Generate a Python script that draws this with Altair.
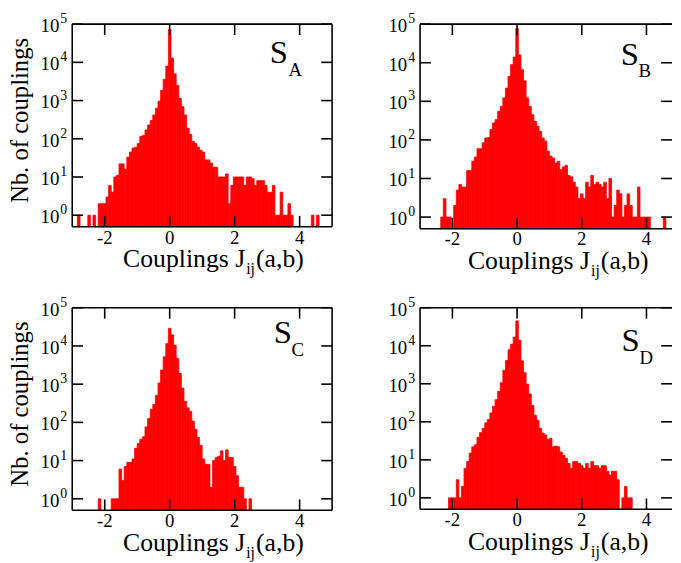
import altair as alt
import pandas as pd

BIN = 0.08
FONT = "Liberation Serif"
RED = "#ff0000"

# histogram counts, bins of width 0.08 centred on k*0.08, starting at k = *_START
A_START = -35
A_COUNTS = [1, 0, 0, 0, 1, 0, 1, 0, 2, 2, 2, 3, 6, 4, 10, 11, 22, 22, 16, 33,
            45, 57, 60, 75, 115, 123, 170, 230, 300, 420, 630, 970, 1860, 3600, 8000,
            72000, 13000, 5000, 2500, 1150, 690, 420, 190, 130, 85, 75, 60, 50, 45, 28,
            28, 23, 18, 18, 10, 10, 10, 12, 2, 6, 10, 10, 10, 10, 6, 10, 10, 9, 6, 8,
            8, 8, 6, 4, 4, 6, 1, 1, 4, 1, 1, 2, 1, 0, 0, 0, 0, 0, 0, 0, 1, 0, 1]

B_START = -29
B_COUNTS = [1, 3, 1, 1, 0, 2, 5, 7, 6, 6, 16, 16, 28, 36, 59, 59, 84, 112, 115, 185,
            275, 335, 550, 740, 1230, 2200, 4400, 8900, 14000,
            76000, 16000, 6600, 3400, 1230, 740, 450, 300, 225, 167, 112, 93, 51, 38, 34,
            25, 28, 17, 20, 22, 12, 11, 8, 6, 3, 4, 3, 8, 6, 12, 7, 8, 7, 6, 8, 3, 10,
            1, 2, 5, 4, 1, 2, 4, 2, 1, 1, 6, 1, 1, 1, 1, 0, 0, 0, 0, 0, 1]

C_START = -27
C_COUNTS = [1, 0, 0, 0, 0, 1, 1, 1, 6, 3, 7, 9, 9, 11, 21, 28, 36, 42, 76, 126, 218,
            295, 510, 1070, 2350, 5200, 11500,
            29000, 19500, 10400, 4700, 1900, 790, 355, 240, 195, 108, 66, 40, 25, 11, 8,
            8, 2, 10, 12, 13, 18, 10, 19, 12, 12, 7, 4, 2, 2, 1, 0, 1]

D_START = -26
D_COUNTS = [1, 1, 1, 3, 1, 2, 6, 9, 15, 22, 25, 39, 52, 67, 94, 115, 171, 255, 380,
            630, 1070, 2250, 4100, 7900, 11000, 17000,
            45000, 14000, 4000, 1950, 980, 540, 270, 148, 110, 67, 50, 45, 34, 37, 22, 23,
            22, 16, 13, 11, 8, 6, 9, 9, 8, 7, 6, 8, 6, 9, 7, 7, 6, 7, 7, 5, 4, 5, 5, 3,
            0, 1, 2, 1, 1]

TICK_X = [-2, 0, 2, 4]
TICK_X_LABELS = ["-2", "0", "2", "4"]
TICK_Y = [1, 10, 100, 1000, 10000, 100000]
TICK_Y_EXP = ["0", "1", "2", "3", "4", "5"]

TL = 11      # inward tick length
FW = 1.6     # frame width


def panel(letter, start, counts, xmax, W, H, ytitle, s_pos, title_x, right_frame):
    rows = []
    for i, c in enumerate(counts):
        if c > 0:
            k = start + i
            rows.append({"x0": (k - 0.5) * BIN, "x1": (k + 0.5) * BIN, "n": c})
    bars_df = pd.DataFrame(rows)
    xs = alt.Scale(domain=[-3, xmax], nice=False, zero=False)
    ys = alt.Scale(type="log", domain=[0.5, 100000], nice=False)
    X = lambda f: alt.X(f, scale=xs, axis=None)
    Y = lambda f: alt.Y(f, scale=ys, axis=None)

    xt = pd.DataFrame({"v": TICK_X, "lab": TICK_X_LABELS})
    yt = pd.DataFrame({"v": TICK_Y, "e": TICK_Y_EXP})
    one = pd.DataFrame({"a": [0]})

    layers = []
    layers.append(alt.Chart(bars_df).mark_rect(color=RED, stroke=RED, strokeWidth=0.8).encode(
        x=X("x0:Q"), x2="x1:Q", y=Y("n:Q"), y2=alt.value(H)))
    # frame
    layers.append(alt.Chart(one).mark_rule(color="black", strokeWidth=FW).encode(
        x=alt.value(0), x2=alt.value(W), y=alt.value(0)))
    layers.append(alt.Chart(one).mark_rule(color="black", strokeWidth=FW).encode(
        x=alt.value(0), x2=alt.value(W), y=alt.value(H)))
    layers.append(alt.Chart(one).mark_rule(color="black", strokeWidth=FW).encode(
        x=alt.value(0), y=alt.value(0), y2=alt.value(H)))
    if right_frame:
        layers.append(alt.Chart(one).mark_rule(color="black", strokeWidth=FW).encode(
            x=alt.value(W), y=alt.value(0), y2=alt.value(H)))
    # inward ticks
    layers.append(alt.Chart(xt).mark_rule(color="black", strokeWidth=FW).encode(
        x=X("v:Q"), y=alt.value(H), y2=alt.value(H - TL)))
    layers.append(alt.Chart(xt).mark_rule(color="black", strokeWidth=FW).encode(
        x=X("v:Q"), y=alt.value(0), y2=alt.value(TL)))
    layers.append(alt.Chart(yt).mark_rule(color="black", strokeWidth=FW).encode(
        y=Y("v:Q"), x=alt.value(0), x2=alt.value(TL)))
    layers.append(alt.Chart(yt).mark_rule(color="black", strokeWidth=FW).encode(
        y=Y("v:Q"), x=alt.value(W), x2=alt.value(W - TL)))
    # y tick labels 10^n
    layers.append(alt.Chart(yt).mark_text(font=FONT, fontSize=19, align="right",
                                          baseline="middle", dy=2).encode(
        y=Y("v:Q"), x=alt.value(-13), text=alt.value("10")))
    layers.append(alt.Chart(yt).mark_text(font=FONT, fontSize=14, align="left",
                                          baseline="middle", dy=-5).encode(
        y=Y("v:Q"), x=alt.value(-12), text="e:N"))
    # x tick labels
    layers.append(alt.Chart(xt).mark_text(font=FONT, fontSize=19, align="center",
                                          baseline="alphabetic").encode(
        x=X("v:Q"), y=alt.value(H + 17), text="lab:N"))
    # S label
    sx, sy, bx, by = s_pos
    layers.append(alt.Chart(one).mark_text(font=FONT, fontSize=33, align="left",
                                           baseline="alphabetic").encode(
        x=alt.value(sx), y=alt.value(sy), text=alt.value("S")))
    layers.append(alt.Chart(one).mark_text(font=FONT, fontSize=19, align="left",
                                           baseline="alphabetic").encode(
        x=alt.value(bx), y=alt.value(by), text=alt.value(letter)))
    # x axis title "Couplings J_ij(a,b)"
    layers.append(alt.Chart(one).mark_text(font=FONT, fontSize=26, align="right",
                                           baseline="alphabetic").encode(
        x=alt.value(title_x), y=alt.value(H + 41), text=alt.value("Couplings J")))
    layers.append(alt.Chart(one).mark_text(font=FONT, fontSize=16, align="left",
                                           baseline="alphabetic").encode(
        x=alt.value(title_x + 1), y=alt.value(H + 48), text=alt.value("ij")))
    layers.append(alt.Chart(one).mark_text(font=FONT, fontSize=26, align="left",
                                           baseline="alphabetic").encode(
        x=alt.value(title_x + 11), y=alt.value(H + 41), text=alt.value("(a,b)")))
    if ytitle:
        layers.append(alt.Chart(one).mark_text(font=FONT, fontSize=25, align="center",
                                               baseline="alphabetic", angle=270).encode(
            x=alt.value(-44.5), y=alt.value(H / 2 - 5), text=alt.value("Nb. of couplings")))
    return alt.layer(*layers).properties(width=W, height=H)


pA = panel("A", A_START, A_COUNTS, 5, 263, 205, True, (200, 39.5, 219, 52.5), 175, True)
pB = panel("B", B_START, B_COUNTS, 4.79, 255, 207, False, (203, 41, 221, 53), 172, False)
pC = panel("C", C_START, C_COUNTS, 5, 263, 205, True, (204, 36, 222, 49), 175, True)
pD = panel("D", D_START, D_COUNTS, 4.79, 255, 204, False, (204, 44, 222, 57), 172, False)

chart = alt.concat(pA, pB, pC, pD, columns=2,
                   spacing=alt.RowColnumber(column=89, row=80),
                   bounds="flush").properties(
    padding={"left": 0, "top": 1, "right": 0, "bottom": 0}
).configure_view(strokeWidth=0)

chart.save("out.html", embed_options={"renderer": "svg", "actions": False})
